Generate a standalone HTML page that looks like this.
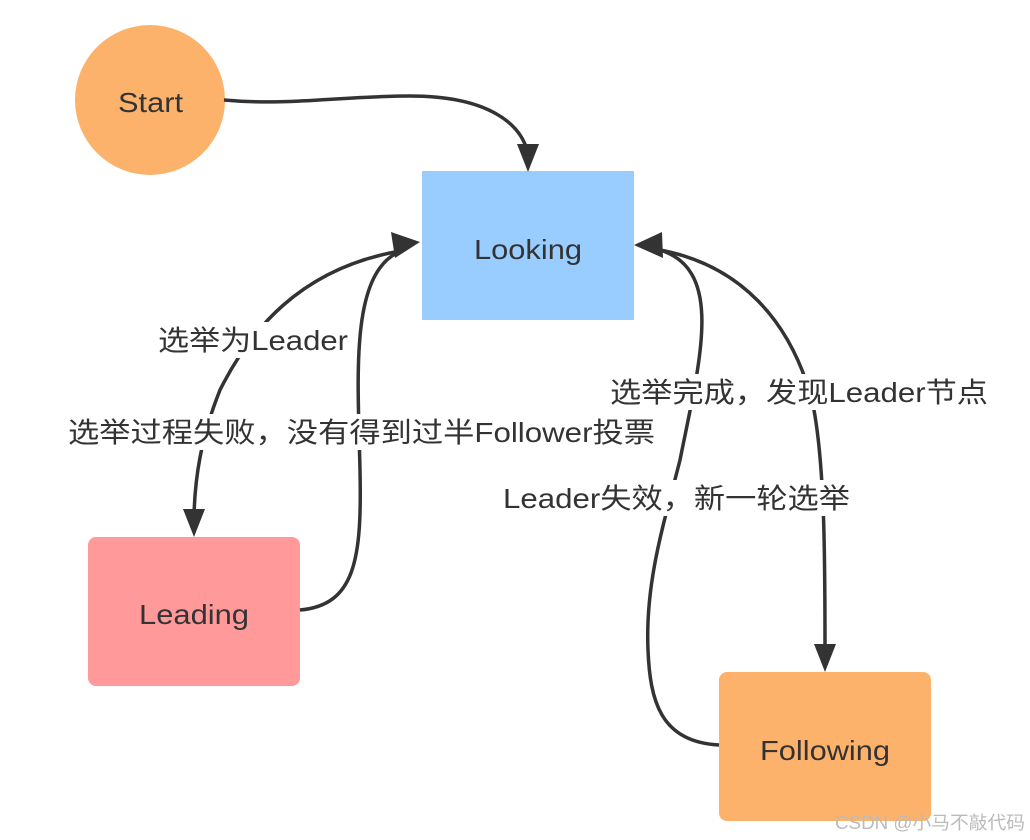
<!DOCTYPE html>
<html><head><meta charset="utf-8"><style>
html,body{margin:0;padding:0;background:#fff;}
svg{display:block}
text{font-family:"Liberation Sans","Noto Sans CJK SC",sans-serif;fill:#333;}
</style></head><body>
<svg width="1030" height="840" viewBox="0 0 1030 840" xmlns="http://www.w3.org/2000/svg">
<circle cx="150" cy="100" r="75" fill="#FDB26B"/>
<text x="118" y="112" font-size="28" textLength="65" lengthAdjust="spacingAndGlyphs">Start</text>
<rect x="422" y="171" width="212" height="149" fill="#99CCFF"/>
<text x="474" y="259" font-size="28" textLength="108" lengthAdjust="spacingAndGlyphs">Looking</text>
<rect x="88" y="537" width="212" height="149" rx="8" fill="#FF999A"/>
<text x="139" y="624" font-size="28" textLength="110" lengthAdjust="spacingAndGlyphs">Leading</text>
<rect x="719" y="672" width="212" height="149" rx="8" fill="#FDB26B"/>
<text x="760" y="760" font-size="28" textLength="130" lengthAdjust="spacingAndGlyphs">Following</text>

<g fill="none" stroke="#333" stroke-width="3.5">
<path d="M224,100 C 290,106 340,96 410,96 C 490,96 520,125 527,150"/>
<path d="M395,252 C 300,270 250,330 220,390 C 200,440 195,480 194,515"/>
<path d="M300,610 C 355,605 362,560 360,470 C 358,380 350,280 395,254"/>
<path d="M719,745 C 660,742 650,700 648,650 C 645,580 665,520 680,460 C 700,360 725,270 660,250"/>
<path d="M660,250 C 740,265 790,320 812,400 C 825,460 825,560 825,650"/>
</g>
<g fill="#333">
<polygon points="528,172 517,144 539,144"/>
<polygon points="420,242 391,232 395,258"/>
<polygon points="634,245 662,232 663,258"/>
<polygon points="194,537 183,509 205,509"/>
<polygon points="825,672 814,644 836,644"/>
</g>
<g font-size="28">
<rect x="155" y="322" width="196" height="36" fill="#fff"/>
<text x="158" y="350" textLength="190" lengthAdjust="spacingAndGlyphs">选举为Leader</text>
<rect x="65" y="414" width="593" height="36" fill="#fff"/>
<text x="68" y="442" textLength="587" lengthAdjust="spacingAndGlyphs">选举过程失败，没有得到过半Follower投票</text>
<rect x="607" y="374" width="384" height="36" fill="#fff"/>
<text x="610" y="402" textLength="378" lengthAdjust="spacingAndGlyphs">选举完成，发现Leader节点</text>
<rect x="500" y="480" width="353" height="36" fill="#fff"/>
<text x="503" y="508" textLength="347" lengthAdjust="spacingAndGlyphs">Leader失效，新一轮选举</text>
</g>
<text x="835" y="829" font-size="18" textLength="190" lengthAdjust="spacingAndGlyphs" style="fill:#bbb">CSDN @小马不敲代码</text>
</svg>
</body></html>
